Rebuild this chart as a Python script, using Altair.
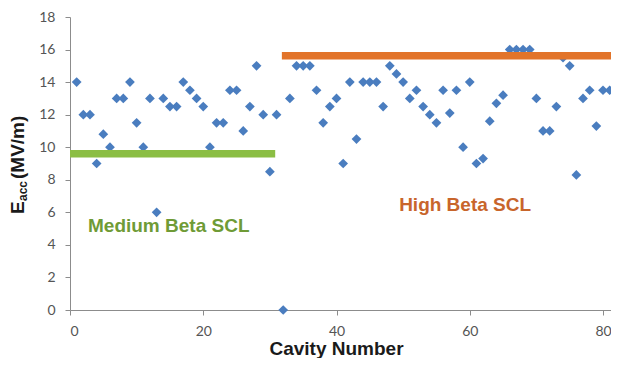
import altair as alt
import pandas as pd

# Cavity gradients (MV/m), cavities 1..81
cavity = list(range(1, 82))
eacc = [
    14, 12, 12, 9, 10.8, 10, 13, 13, 14, 11.5,
    10, 13, 6, 13, 12.5, 12.5, 14, 13.5, 13, 12.5,
    10, 11.5, 11.5, 13.5, 13.5, 11, 12.5, 15, 12, 8.5,
    12, 0, 13, 15, 15, 15, 13.5, 11.5, 12.5, 13,
    9, 14, 10.5, 14, 14, 14, 12.5, 15, 14.5, 14,
    13, 13.5, 12.5, 12, 11.5, 13.5, 12.1, 13.5, 10, 14,
    9, 9.3, 11.6, 12.7, 13.2, 16, 16, 16, 16, 13,
    11, 11, 12.5, 15.5, 15, 8.3, 13, 13.5, 11.3, 13.5,
    13.5,
]

# Average gradient bars for the two sections
bar_name = ["Medium Beta SCL", "High Beta SCL"]
bar_start = [0, 31.8]
bar_end = [30.8, 82]
bar_level = [9.6, 15.62]
bar_color = ["#8BBE44", "#E2742A"]

# Section labels
label_text = ["Medium Beta SCL", "High Beta SCL"]
label_x = [2.7, 49.4]
label_y = [4.8, 6.1]
label_color = ["#6F9B36", "#C8652B"]

# Axis ticks
x_ticks = [0, 20, 40, 60, 80]
y_ticks = [0, 2, 4, 6, 8, 10, 12, 14, 16, 18]

pts = pd.DataFrame({"cavity": cavity, "eacc": eacc})
bars = pd.DataFrame({"name": bar_name, "x0": bar_start, "x1": bar_end,
                     "y": bar_level, "c": bar_color})
labels = pd.DataFrame({"t": label_text, "x": label_x, "y": label_y, "c": label_color})

xscale = alt.Scale(domain=[0, 81.2], nice=False, zero=False)
yscale = alt.Scale(domain=[0, 18], nice=False)

axis_common = dict(
    grid=False, domainColor="#8C8C8C", tickColor="#8C8C8C", tickSize=5,
    labelFont="Lato", labelFontSize=14, labelColor="#555555", labelOverlap=False,
)

x_axis = alt.Axis(values=x_ticks, labelPadding=9,
                  title="Cavity Number", titleFont="Liberation Sans",
                  titleFontSize=19, titleFontWeight="bold", titleColor="#1a1a1a",
                  titleBaseline="alphabetic", titleY=44, titleX=266,
                  titleAlign="center", **axis_common)
y_axis = alt.Axis(values=y_ticks, labelPadding=10, title=None, **axis_common)

points = alt.Chart(pts).mark_point(
    shape="diamond", filled=True, size=95, color="#4A7DBF", opacity=1
).encode(
    x=alt.X("cavity:Q", scale=xscale, axis=x_axis),
    y=alt.Y("eacc:Q", scale=yscale, axis=y_axis),
)

bar_layer = alt.Chart(bars).mark_rule(strokeWidth=7.5, strokeCap="butt").encode(
    x=alt.X("x0:Q", scale=xscale, axis=x_axis),
    x2="x1:Q",
    y=alt.Y("y:Q", scale=yscale, axis=y_axis),
    color=alt.Color("c:N", scale=None),
)

label_layer = alt.Chart(labels).mark_text(
    align="left", baseline="alphabetic", font="Liberation Sans",
    fontSize=19, fontWeight="bold"
).encode(
    x=alt.X("x:Q", scale=xscale, axis=x_axis),
    y=alt.Y("y:Q", scale=yscale, axis=y_axis),
    text="t:N",
    color=alt.Color("c:N", scale=None),
)

# y-axis title built from pieces so that "acc" can be a subscript
ytitle_text = ["E", "acc", "(MV/m)"]

def ytitle_piece(txt, px, py, size):
    return alt.Chart(pd.DataFrame({"t": [txt]})).mark_text(
        angle=270, align="left", baseline="alphabetic", font="Liberation Sans",
        fontSize=size, fontWeight="bold", color="#1a1a1a"
    ).encode(text="t:N", x=alt.value(px), y=alt.value(py))

yt = (ytitle_piece(ytitle_text[0], -46, 197, 19)
      + ytitle_piece(ytitle_text[1], -43, 184, 12)
      + ytitle_piece(ytitle_text[2], -46, 162, 19))

chart = alt.layer(points, bar_layer, label_layer, yt).properties(
    width=541, height=293,
    autosize=alt.AutoSizeParams(type="none"),
    padding={"left": 62, "top": 9, "right": 0, "bottom": 48},
    background="white",
).configure_view(stroke=None).configure_axisY(labelOverlap=False)

chart.save("out.html", embed_options={"renderer": "svg", "actions": False})
